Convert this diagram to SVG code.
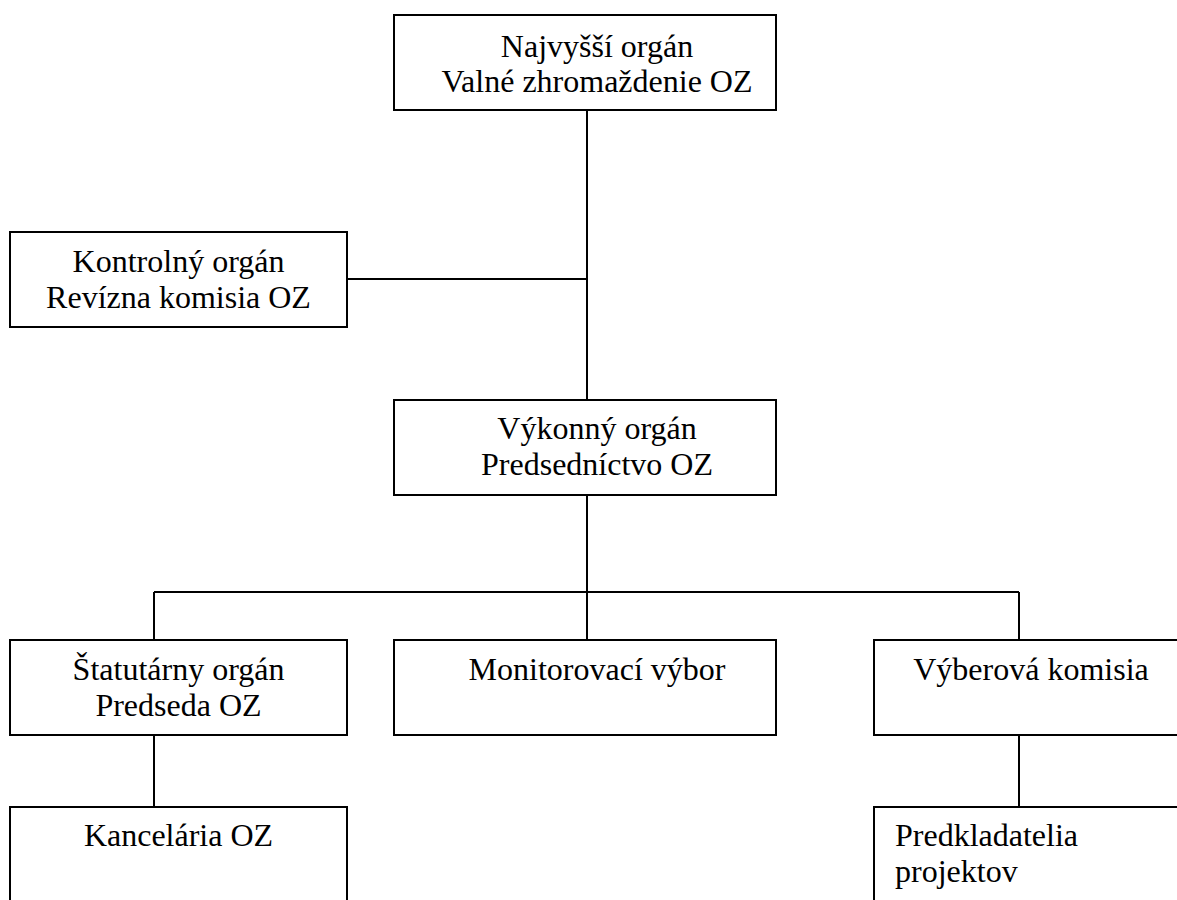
<svg xmlns="http://www.w3.org/2000/svg" width="1177" height="900" viewBox="0 0 1177 900">
<style>
.box{fill:#fff;stroke:#000;stroke-width:2}
.c{fill:none;stroke:#000;stroke-width:2}
text{font-family:"Liberation Serif","Times New Roman",serif;font-size:32px;fill:#000}
.m{text-anchor:middle}
</style>
<rect width="1177" height="900" fill="#fff"/>
<g id="connectors">
<path class="c" d="M587 110V400"/>
<path class="c" d="M347 279H587"/>
<path class="c" d="M587 495V640"/>
<path class="c" d="M154 592H1019"/>
<path class="c" d="M154 592V640"/>
<path class="c" d="M1019 592V640"/>
<path class="c" d="M154 735V807"/>
<path class="c" d="M1019 735V807"/>
</g>
<g id="najvyssi">
<rect class="box" x="394" y="15" width="382" height="95"/>
<text class="m" x="597" y="57">Najvyšší orgán</text>
<text class="m" x="597" y="92">Valné zhromaždenie OZ</text>
</g>
<g id="kontrolny">
<rect class="box" x="10" y="232" width="337" height="95"/>
<text class="m" x="178.5" y="272">Kontrolný orgán</text>
<text class="m" x="178.5" y="308">Revízna komisia OZ</text>
</g>
<g id="vykonny">
<rect class="box" x="394" y="400" width="382" height="95"/>
<text class="m" x="597" y="439">Výkonný orgán</text>
<text class="m" x="597" y="475">Predsedníctvo OZ</text>
</g>
<g id="statutarny">
<rect class="box" x="10" y="640" width="337" height="95"/>
<text class="m" x="178.5" y="680">Štatutárny orgán</text>
<text class="m" x="178.5" y="716">Predseda OZ</text>
</g>
<g id="monitorovaci">
<rect class="box" x="394" y="640" width="382" height="95"/>
<text class="m" x="597" y="680">Monitorovací výbor</text>
</g>
<g id="vyberova">
<rect class="box" x="874" y="640" width="337" height="95"/>
<text class="m" x="1031" y="680">Výberová komisia</text>
</g>
<g id="kancelaria">
<rect class="box" x="10" y="807" width="337" height="110"/>
<text class="m" x="178.5" y="846">Kancelária OZ</text>
</g>
<g id="predkladatelia">
<rect class="box" x="874" y="807" width="337" height="110"/>
<text x="895" y="846">Predkladatelia</text>
<text x="895" y="882">projektov</text>
</g>
</svg>
